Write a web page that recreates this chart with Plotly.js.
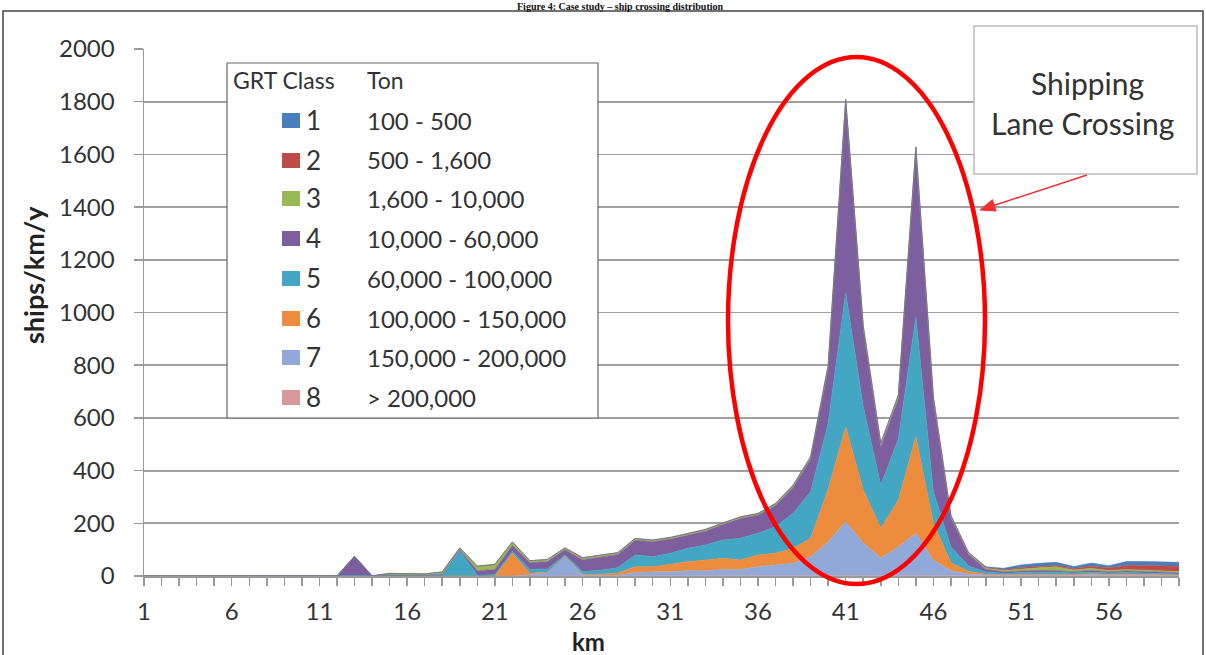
<!DOCTYPE html>
<html>
<head>
<meta charset="utf-8">
<script src="https://cdn.plot.ly/plotly-3.0.1.min.js"></script>
<style>
html,body{margin:0;padding:0;background:#fff;}
#chart{width:1206px;height:655px;}
</style>
</head>
<body>
<div id="chart"></div>
<script>
// ---- data ----
const km = [1,2,3,4,5,6,7,8,9,10,11,12,13,14,15,16,17,18,19,20,21,22,23,24,25,26,27,28,29,30,31,32,33,34,35,36,37,38,39,40,41,42,43,44,45,46,47,48,49,50,51,52,53,54,55,56,57,58,59,60];
const kmTickVals = [1,6,11,16,21,26,31,36,41,46,51,56];
const kmTickText = ["1","6","11","16","21","26","31","36","41","46","51","56"];
const classNames = ["1","2","3","4","5","6","7","8"];
const tonRanges = ["100 - 500","500 - 1,600","1,600 - 10,000","10,000 - 60,000","60,000 - 100,000","100,000 - 150,000","150,000 - 200,000","> 200,000"];

// ships/km/y per GRT class, km 1..60
const grt1 = [0,0,0,0,0,0,0,0,0,0,0,0,0,0,0,0,0,1,0,1,1,1,0,0,0,1,1,1,1,1,1,1,1,1,1,1,1,1,1,1,1,1,1,1,2,2,1,1,3,5,10,12,12,8,12,8,15,15,15,15];
const grt2 = [0,0,0,0,0,0,0,0,0,0,0,0,0,0,0,0,0,1,1,1,1,1,0,0,1,1,1,1,1,1,1,1,1,1,1,1,1,1,1,2,2,2,2,2,2,3,1,1,2,3,5,5,5,5,8,10,15,18,18,20];
const grt3 = [0,0,0,0,0,0,0,0,0,0,0,0,0,1,6,5,5,7,6,16,18,12,8,8,6,6,6,6,5,5,5,5,5,5,5,5,6,7,8,12,15,12,12,12,15,15,8,5,5,5,8,10,15,7,8,5,6,6,6,5];
const grt4 = [0,0,0,0,0,0,0,0,0,0,0,0,75,0,4,3,3,5,4,17,20,22,25,28,20,45,50,50,56,57,54,50,52,58,75,69,81,98,123,205,717,292,145,152,626,340,110,45,10,6,6,8,6,5,6,5,6,5,5,4];
const grt5 = [0,0,0,0,0,0,0,0,0,0,0,0,0,0,0,0,0,2,96,3,5,8,15,12,5,10,15,20,45,38,41,51,57,70,82,82,101,133,177,250,509,317,163,232,455,120,60,20,8,5,6,6,6,5,6,4,5,5,4,3];
const grt6 = [0,0,0,0,0,0,0,0,0,0,0,0,0,0,0,0,0,0,0,0,0,86,5,0,0,2,5,8,22,19,29,34,41,42,36,45,44,57,70,200,360,201,114,177,367,140,30,10,3,2,3,3,3,2,3,2,3,2,2,2];
const grt7 = [0,0,0,0,0,0,0,0,0,0,0,0,0,0,0,0,0,0,0,0,0,0,5,15,75,5,2,3,13,16,16,20,20,25,25,35,42,48,73,130,206,125,68,111,162,60,20,8,4,3,4,4,4,3,5,4,4,3,2,2];
const grt8 = [0,0,0,0,0,0,0,0,0,0,0,0,0,0,0,0,0,0,0,0,0,0,0,0,0,0,0,0,0,0,0,0,0,0,0,0,0,0,0,0,0,0,0,0,0,0,0,0,0,0,0,0,1,1,1,1,1,1,1,1];

const colors = ["#4A7EBB","#BE4B48","#98B954","#7D5FA0","#43A6C2","#EE8C3D","#91A9D8","#D9999A"];
const seriesVals = [grt1,grt2,grt3,grt4,grt5,grt6,grt7,grt8];

// ---- geometry helpers (pixel -> paper) ----
const L=144, R=1179, T=49, B=576, W=R-L, H=B-T;
const PX = x => (x-L)/W;
const PY = y => (B-y)/H;

// stacked from class 8 (bottom) to class 1 (top)
const traces = [];
for (let i=7;i>=0;i--){
  traces.push({
    x: km, y: seriesVals[i], name: classNames[i],
    type:'scatter', mode:'lines', stackgroup:'one',
    line:{width:0.6, color:colors[i]}, fillcolor:colors[i],
    hoverinfo:'x+y+name'
  });
}

const FONT = 'Lato, "Open Sans", sans-serif';
const shapes = [];
const annotations = [];

// outer frame
shapes.push({type:'rect', xref:'paper', yref:'paper', x0:PX(3), x1:PX(1203), y0:PY(700), y1:PY(11), line:{color:'#444', width:1.5}});
// legend box
shapes.push({type:'rect', xref:'paper', yref:'paper', x0:PX(227), x1:PX(598), y0:PY(418), y1:PY(63), line:{color:'#666', width:1.2}, fillcolor:'#fff', layer:'above'});
annotations.push({xref:'paper', yref:'paper', x:PX(231), y:PY(80), xanchor:'left', yanchor:'middle', text:'GRT Class', showarrow:false, font:{family:FONT, size:23, color:'#333'}});
annotations.push({xref:'paper', yref:'paper', x:PX(365), y:PY(80), xanchor:'left', yanchor:'middle', text:'Ton', showarrow:false, font:{family:FONT, size:23, color:'#333'}});
const rowY = [120,160,198,238,278,318,357,397];
for (let i=0;i<8;i++){
  shapes.push({type:'rect', xref:'paper', yref:'paper', x0:PX(282), x1:PX(300), y0:PY(rowY[i]+8), y1:PY(rowY[i]-7), line:{width:0}, fillcolor:colors[i], layer:'above'});
  annotations.push({xref:'paper', yref:'paper', x:PX(304), y:PY(rowY[i]), xanchor:'left', yanchor:'middle', text:classNames[i], showarrow:false, font:{family:FONT, size:26, color:'#333'}});
  annotations.push({xref:'paper', yref:'paper', x:PX(365), y:PY(rowY[i]), xanchor:'left', yanchor:'middle', text:tonRanges[i], showarrow:false, font:{family:FONT, size:24, color:'#333'}});
}
// callout box
shapes.push({type:'rect', xref:'paper', yref:'paper', x0:PX(974), x1:PX(1197), y0:PY(174), y1:PY(26), line:{color:'#bbb', width:1.5}, fillcolor:'#fff', layer:'above'});
annotations.push({xref:'paper', yref:'paper', x:PX(1087), y:PY(83), xanchor:'center', yanchor:'middle', text:'Shipping', showarrow:false, font:{family:FONT, size:30, color:'#333'}});
annotations.push({xref:'paper', yref:'paper', x:PX(1082), y:PY(123), xanchor:'center', yanchor:'middle', text:'Lane Crossing', showarrow:false, font:{family:FONT, size:30, color:'#333'}});
// arrow
shapes.push({type:'line', xref:'paper', yref:'paper', x0:PX(1087), y0:PY(175), x1:PX(992), y1:PY(206), line:{color:'#f03030', width:1.5}});
(function(){
  const tx=980, ty=210, dx=-107, dy=35, len=Math.hypot(dx,dy);
  const ux=dx/len, uy=dy/len, bl=15, hw=6;
  const bx=tx-ux*bl, by=ty-uy*bl;
  const p1=[bx+(-uy)*hw, by+ux*hw], p2=[bx-(-uy)*hw, by-ux*hw];
  shapes.push({type:'path', xref:'paper', yref:'paper',
    path:`M ${PX(tx)} ${PY(ty)} L ${PX(p1[0])} ${PY(p1[1])} L ${PX(p2[0])} ${PY(p2[1])} Z`,
    fillcolor:'#f03030', line:{color:'#f03030', width:1}});
})();
// red ellipse
shapes.push({type:'circle', xref:'paper', yref:'paper', x0:PX(728), x1:PX(985), y0:PY(584), y1:PY(57), line:{color:'#ff0000', width:4.5}, layer:'above'});

// axis titles
annotations.push({xref:'paper', yref:'paper', x:PX(33), y:PY(275), xanchor:'center', yanchor:'middle', textangle:-90, text:'<b>ships/km/y</b>', showarrow:false, font:{family:FONT, size:27, color:'#222'}});
annotations.push({xref:'paper', yref:'paper', x:PX(588), y:PY(641), xanchor:'center', yanchor:'middle', text:'<b>km</b>', showarrow:false, font:{family:FONT, size:24, color:'#222'}});
// figure caption at the very top (kept fully visible)
annotations.push({xref:'paper', yref:'paper', x:PX(620), y:PY(0), xanchor:'center', yanchor:'top', borderpad:0, text:'<b>Figure 4: Case study – ship crossing distribution</b>', showarrow:false, font:{family:'"Liberation Serif", serif', size:10, color:'#111'}});

const layout = {
  width:1206, height:655,
  margin:{l:L, r:1206-R, t:T, b:655-B, pad:0},
  paper_bgcolor:'#fff', plot_bgcolor:'#fff',
  showlegend:false,
  xaxis:{range:[1,60], tickmode:'array', tickvals:km, ticktext:km.map(k=>kmTickVals.includes(k)?kmTickText[kmTickVals.indexOf(k)]:''),
    ticks:'outside', ticklen:8, tickwidth:1.5, tickcolor:'#999', showline:true, linecolor:'#999', linewidth:1.5,
    showgrid:false, zeroline:false, tickfont:{family:FONT, size:24, color:'#333'}, ticklabelstandoff:6, fixedrange:true},
  yaxis:{range:[0,2000], tick0:0, dtick:200, ticks:'outside', ticklen:9, tickwidth:1.5, tickcolor:'#999',
    showline:true, linecolor:'#999', linewidth:1.5, showgrid:true, gridcolor:'#a0a0a0', gridwidth:1.8,
    zeroline:false, tickfont:{family:FONT, size:24, color:'#333'}, ticklabelstandoff:14, fixedrange:true},
  shapes:shapes, annotations:annotations
};

Plotly.newPlot('chart', traces, layout, {displayModeBar:false, staticPlot:true});
</script>
</body>
</html>
